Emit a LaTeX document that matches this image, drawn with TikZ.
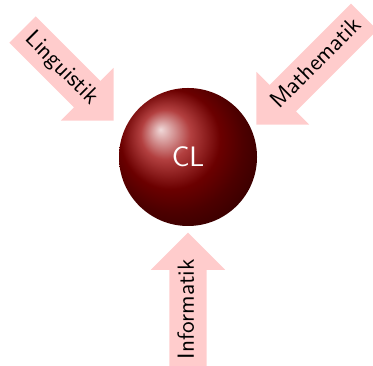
\documentclass[tikz,border=0pt]{standalone}
\usetikzlibrary{shapes.arrows}
\begin{document}
\begin{tikzpicture}[x=0.4587pt,y=-0.4587pt,
  fieldarrow/.style={single arrow, fill=red!20, draw=none,
    font=\fontsize{10.7}{13}\selectfont\sffamily,
    text height=1.5ex, text depth=.25ex, inner ysep=4.6pt, inner xsep=3.5pt,
    single arrow head extend=8.5pt, single arrow tip angle=90, anchor=tip},
  core/.style={circle, ball color=red!60!black, text=white,
    font=\fontsize{12.9}{15}\selectfont\sffamily,
    minimum size=138*0.4587pt, inner sep=0pt}]
\useasboundingbox (0,0) rectangle (373,366);
\clip (0,0) rectangle (373,366);
\node[core] (cl) at (188,157) {CL};
\node[fieldarrow, rotate=90] (inf) at (188,232) {Informatik};
\node[fieldarrow, rotate=-45] (ling) at (114,121) {Linguistik};
\node[fieldarrow, rotate=45, shape border rotate=180] (math) at (256,125) {Mathematik};
\end{tikzpicture}
\end{document}
